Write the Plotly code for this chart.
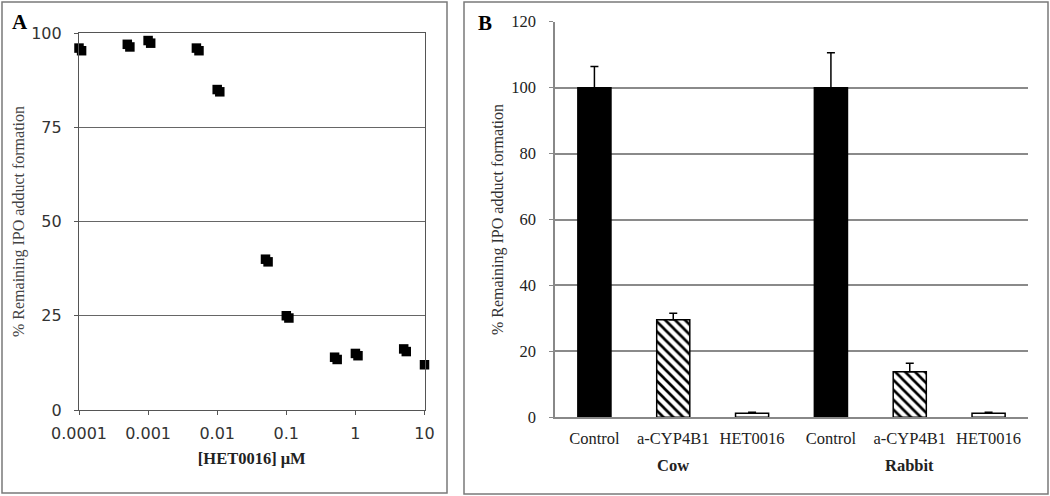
import plotly.graph_objects as go

# ---------- Panel A data ----------
conc_uM = [0.0001, 0.0005, 0.001, 0.005, 0.01, 0.05, 0.1, 0.5, 1, 5, 10]
rep1_pct = [96.0, 97.0, 98.0, 96.0, 85.0, 40.0, 25.0, 14.0, 15.0, 16.2, 12.0]
rep2_pct = [95.3, 96.3, 97.3, 95.3, 84.4, 39.3, 24.4, 13.4, 14.4, 15.5, 11.3]
rep2_shift = 1.09
a_xticks = [0.0001, 0.001, 0.01, 0.1, 1, 10]
a_xticklabels = ["0.0001", "0.001", "0.01", "0.1", "1", "10"]
a_yticks = [0, 25, 50, 75, 100]

# ---------- Panel B data ----------
species = ["Cow", "Rabbit"]
treatments = ["Control", "a-CYP4B1", "HET0016"]
cow_vals = [100, 29.6, 1.2]
cow_err = [6.4, 2.0, 0.3]
rabbit_vals = [100, 13.8, 1.2]
rabbit_err = [10.6, 2.6, 0.3]
b_yticks = [0, 20, 40, 60, 80, 100, 120]

W, H = 1050, 496
def px(x):
    return x / W
def py(y):
    return 1 - y / H

fig = go.Figure()

# Panel A scatter
fig.add_trace(go.Scatter(
    x=conc_uM, y=rep1_pct, mode="markers", xaxis="x", yaxis="y",
    marker=dict(symbol="square", size=9.5, color="black"),
    cliponaxis=False, showlegend=False))
fig.add_trace(go.Scatter(
    x=[c * rep2_shift for c in conc_uM], y=rep2_pct, mode="markers", xaxis="x", yaxis="y",
    marker=dict(symbol="square", size=9.5, color="black"),
    cliponaxis=False, showlegend=False))

# Panel B bars: one trace per treatment
n_t = len(treatments)
styles = {
    "Control": dict(color="black"),
    "a-CYP4B1": dict(color="white", pattern=dict(shape="\\", fgcolor="black", bgcolor="white",
                                                 fgopacity=1, size=7, solidity=0.38,
                                                 fillmode="replace")),
    "HET0016": dict(color="white"),
}
for j, t in enumerate(treatments):
    xs = [i * n_t + j for i in range(len(species))]
    ys = [cow_vals[j], rabbit_vals[j]]
    es = [cow_err[j], rabbit_err[j]]
    mk = dict(styles[t])
    mk["line"] = dict(color="black", width=1.5)
    fig.add_trace(go.Bar(
        x=xs, y=ys, xaxis="x2", yaxis="y2", width=0.42, marker=mk,
        error_y=dict(type="data", symmetric=False, array=es, arrayminus=[0] * len(es),
                     color="black", thickness=1.5, width=4),
        showlegend=False))

labels = treatments * len(species)
xpos = list(range(len(labels)))

serif = "Liberation Serif"
sans = "DejaVu Sans"

fig.update_layout(
    width=W, height=H, margin=dict(l=0, r=0, t=0, b=0),
    paper_bgcolor="white", plot_bgcolor="white", barmode="overlay",
    xaxis=dict(type="log", domain=[px(79), px(424.5)], range=[-4, 1],
               tickvals=a_xticks, ticktext=a_xticklabels, automargin=False,
               showgrid=False, showline=True, linecolor="#555", linewidth=1.2,
               mirror=True, ticks="outside", ticklen=4, tickcolor="#555",
               tickfont=dict(family=sans, size=16, color="#333"),
               ticklabelstandoff=5,
               title=dict(text="<b>[HET0016] μM</b>", font=dict(family=serif, size=16.5, color="#222"),
                          standoff=10),
               zeroline=False, anchor="y"),
    yaxis=dict(domain=[py(410), py(33)], range=[0, 100], tickvals=a_yticks, automargin=False,
               showgrid=True, gridcolor="#666", gridwidth=1.2,
               showline=True, linecolor="#555", linewidth=1.2, mirror=True,
               ticks="outside", ticklen=4, tickcolor="#555",
               tickfont=dict(family=sans, size=16, color="#333"),
               ticklabelstandoff=9,
               title=dict(text="% Remaining IPO adduct formation",
                          font=dict(family=serif, size=16, color="#444"), standoff=2),
               zeroline=False, anchor="x"),
    xaxis2=dict(domain=[px(555), px(1028)], range=[-0.5, 5.5], automargin=False,
                tickvals=xpos, ticktext=labels,
                showgrid=False, showline=True, linecolor="#888", linewidth=1.5,
                ticks="", tickfont=dict(family=serif, size=16.5, color="#222"),
                ticklabelstandoff=5, zeroline=False, anchor="y2"),
    yaxis2=dict(domain=[py(417.3), py(21.7)], range=[0, 120], tickvals=b_yticks, automargin=False,
                showgrid=True, gridcolor="#8a8a8a", gridwidth=1.5,
                showline=True, linecolor="#888", linewidth=1.5,
                ticks="outside", ticklen=4, tickcolor="#888",
                tickfont=dict(family=serif, size=16.5, color="#222"),
                ticklabelstandoff=10,
                title=dict(text="% Remaining IPO adduct formation",
                           font=dict(family=serif, size=16, color="#333"), standoff=4),
                zeroline=False, anchor="x2"),
)

# Group labels under panel B
for i, sp in enumerate(species):
    fig.add_annotation(x=i * n_t + 1, y=py(465), xref="x2", yref="paper",
                       xanchor="center", yanchor="middle",
                       text="<b>%s</b>" % sp, showarrow=False,
                       font=dict(family=serif, size=16.5, color="#222"))

# Panel letters
fig.add_annotation(x=px(20), y=py(22), xref="paper", yref="paper", text="<b>A</b>",
                   xanchor="center", yanchor="middle",
                   showarrow=False, font=dict(family=serif, size=21, color="black"))
fig.add_annotation(x=px(485), y=py(23), xref="paper", yref="paper", text="<b>B</b>",
                   xanchor="center", yanchor="middle",
                   showarrow=False, font=dict(family=serif, size=21, color="black"))

# Panel frames
fig.add_shape(type="rect", xref="paper", yref="paper",
              x0=px(2), x1=px(447), y0=py(493), y1=py(2),
              line=dict(color="#7a7a7a", width=1.5), layer="below")
fig.add_shape(type="rect", xref="paper", yref="paper",
              x0=px(464), x1=px(1048), y0=py(494), y1=py(2),
              line=dict(color="#7a7a7a", width=1.5), layer="below")

fig.write_html("out.html", config={"displayModeBar": False},
               post_script="document.body.style.margin='0';document.body.style.overflow='hidden';")
